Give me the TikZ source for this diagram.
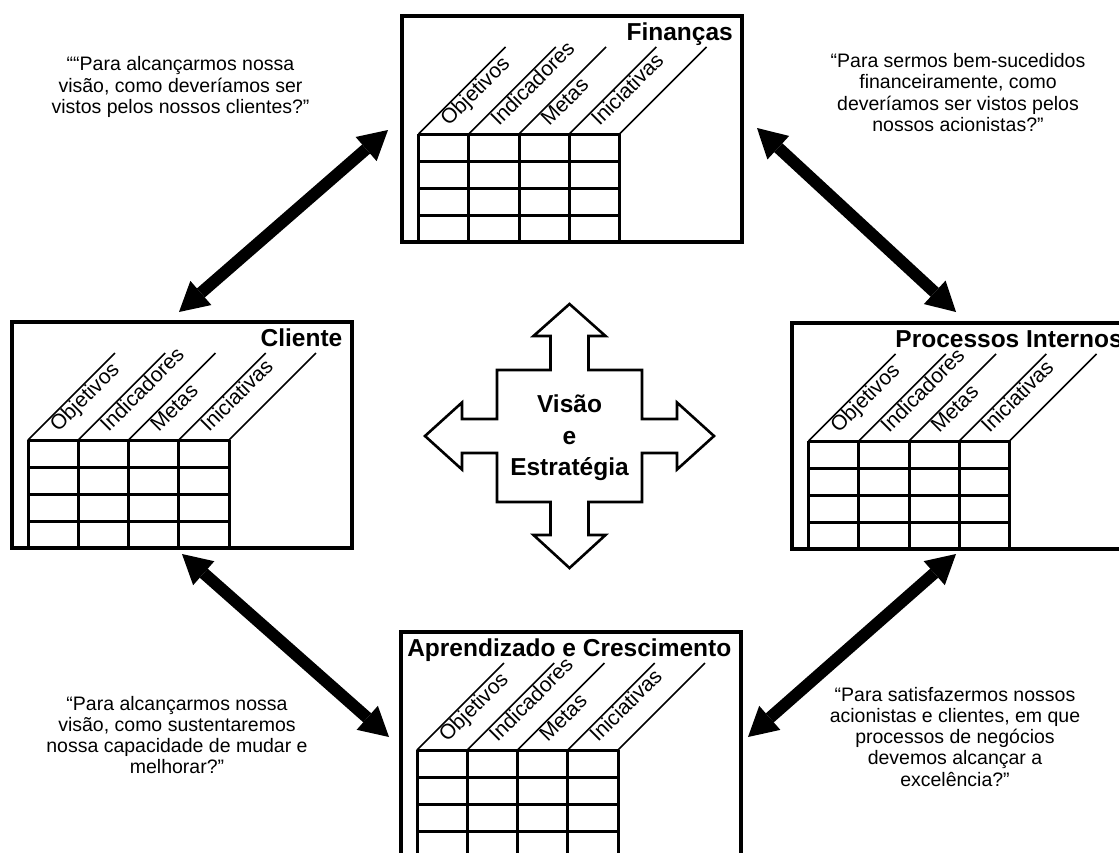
\documentclass[tikz,border=0pt]{standalone}
\usepackage{fontspec}
\setmainfont{Liberation Sans}
\usetikzlibrary{arrows.meta}
\tikzset{
  cardframe/.style={draw, line width=4pt, minimum width=340pt, minimum height=226pt, inner sep=0pt, outer sep=0pt, anchor=north west},
  cardtitle/.style={anchor=base east, inner sep=0pt, font=\fontsize{24.5}{28}\selectfont\bfseries},
  gridline/.style={line width=3pt},
  diagline/.style={line width=1.5pt},
  collabel/.style={anchor=base west, rotate=45, inner sep=0pt, font=\fontsize{21}{24}\selectfont},
  quote/.style={align=center, anchor=base, inner sep=0pt, font=\fontsize{19.5}{21.3}\selectfont},
  bigarrow/.style={line width=12pt, >={Triangle[length=29pt,width=32pt,line width=0pt]}, <->},
  crossshape/.style={draw, line width=2.6pt, fill=white, line join=miter},
  visiontext/.style={align=center, inner sep=0pt, font=\fontsize{24.5}{31.5}\selectfont\bfseries}
}
\newcommand\bsccard[4]{%
  \begin{scope}[shift={(#2,#3)}]
    \node[cardframe] (#1) at (0,0) {};
    \node[cardtitle] (#1-title) at (331,24) {#4};
    \foreach \i in {0,...,4} {
      \draw[gridline] (16.5+50.25*\i,118) -- (16.5+50.25*\i,226);
      \draw[diagline] (16.5+50.25*\i,118) -- ++(87,-87);
    }
    \foreach \r in {118,145,172,199} {
      \draw[gridline] (16.5,\r) -- (217.5,\r);
    }
    \foreach \i/\lab in {1/Objetivos,2/Indicadores,3/Metas,4/Iniciativas} {
      \node[collabel] (#1-\i) at (16.5+50.25*\i-20,111) {\lab};
    }
  \end{scope}}
\begin{document}
\begin{tikzpicture}[x=1pt,y=-1pt]
\clip (0,0) rectangle (1119,852);
\fill[white] (0,0) rectangle (1119,852);

\bsccard{fin}{402}{16}{Finanças}
\bsccard{cli}{11.5}{322}{Cliente}
\bsccard{proc}{792}{323}{Processos Internos}
\bsccard{apr}{400.5}{632}{Aprendizado e Crescimento}

% central cross
\draw[crossshape] (569.5,304) -- (605.5,336) -- (588.5,336) -- (588.5,370) -- (642,370) -- (642,419)
  -- (677,419) -- (677,402.5) -- (714,436) -- (677,469.5) -- (677,453) -- (642,453) -- (642,502)
  -- (588.5,502) -- (588.5,535) -- (605.5,535) -- (569.5,568) -- (533.5,535) -- (550.5,535)
  -- (550.5,502) -- (497,502) -- (497,453) -- (462,453) -- (462,469.5) -- (425,436) -- (462,402.5)
  -- (462,419) -- (497,419) -- (497,370) -- (550.5,370) -- (550.5,336) -- (533.5,336) -- cycle;
\node[visiontext] (vis) at (569.5,438) {Visão\\e\\Estratégia};

% arrow end points
\coordinate (a1s) at (179,312);
\coordinate (a1e) at (388,130);
\coordinate (a2s) at (757,128);
\coordinate (a2e) at (956,312);
\coordinate (a3s) at (182,554);
\coordinate (a3e) at (389,737);
\coordinate (a4s) at (956,554);
\coordinate (a4e) at (748,737);
\draw[bigarrow] (a1s) -- (a1e);
\draw[bigarrow] (a2s) -- (a2e);
\draw[bigarrow] (a3s) -- (a3e);
\draw[bigarrow] (a4s) -- (a4e);

% quotes (anchor = baseline of the last line)
\node[quote] (q1) at (180.5,113.3) {““Para alcançarmos nossa\\visão, como deveríamos ser\\vistos pelos nossos clientes?”};
\node[quote] (q2) at (958,131.4) {“Para sermos bem-sucedidos\\financeiramente, como\\deveríamos ser vistos pelos\\nossos acionistas?”};
\node[quote] (q3) at (177,773.9) {“Para alcançarmos nossa\\visão, como sustentaremos\\nossa capacidade de mudar e\\melhorar?”};
\node[quote] (q4) at (955,786.2) {“Para satisfazermos nossos\\acionistas e clientes, em que\\processos de negócios\\devemos alcançar a\\excelência?”};
\end{tikzpicture}
\end{document}
